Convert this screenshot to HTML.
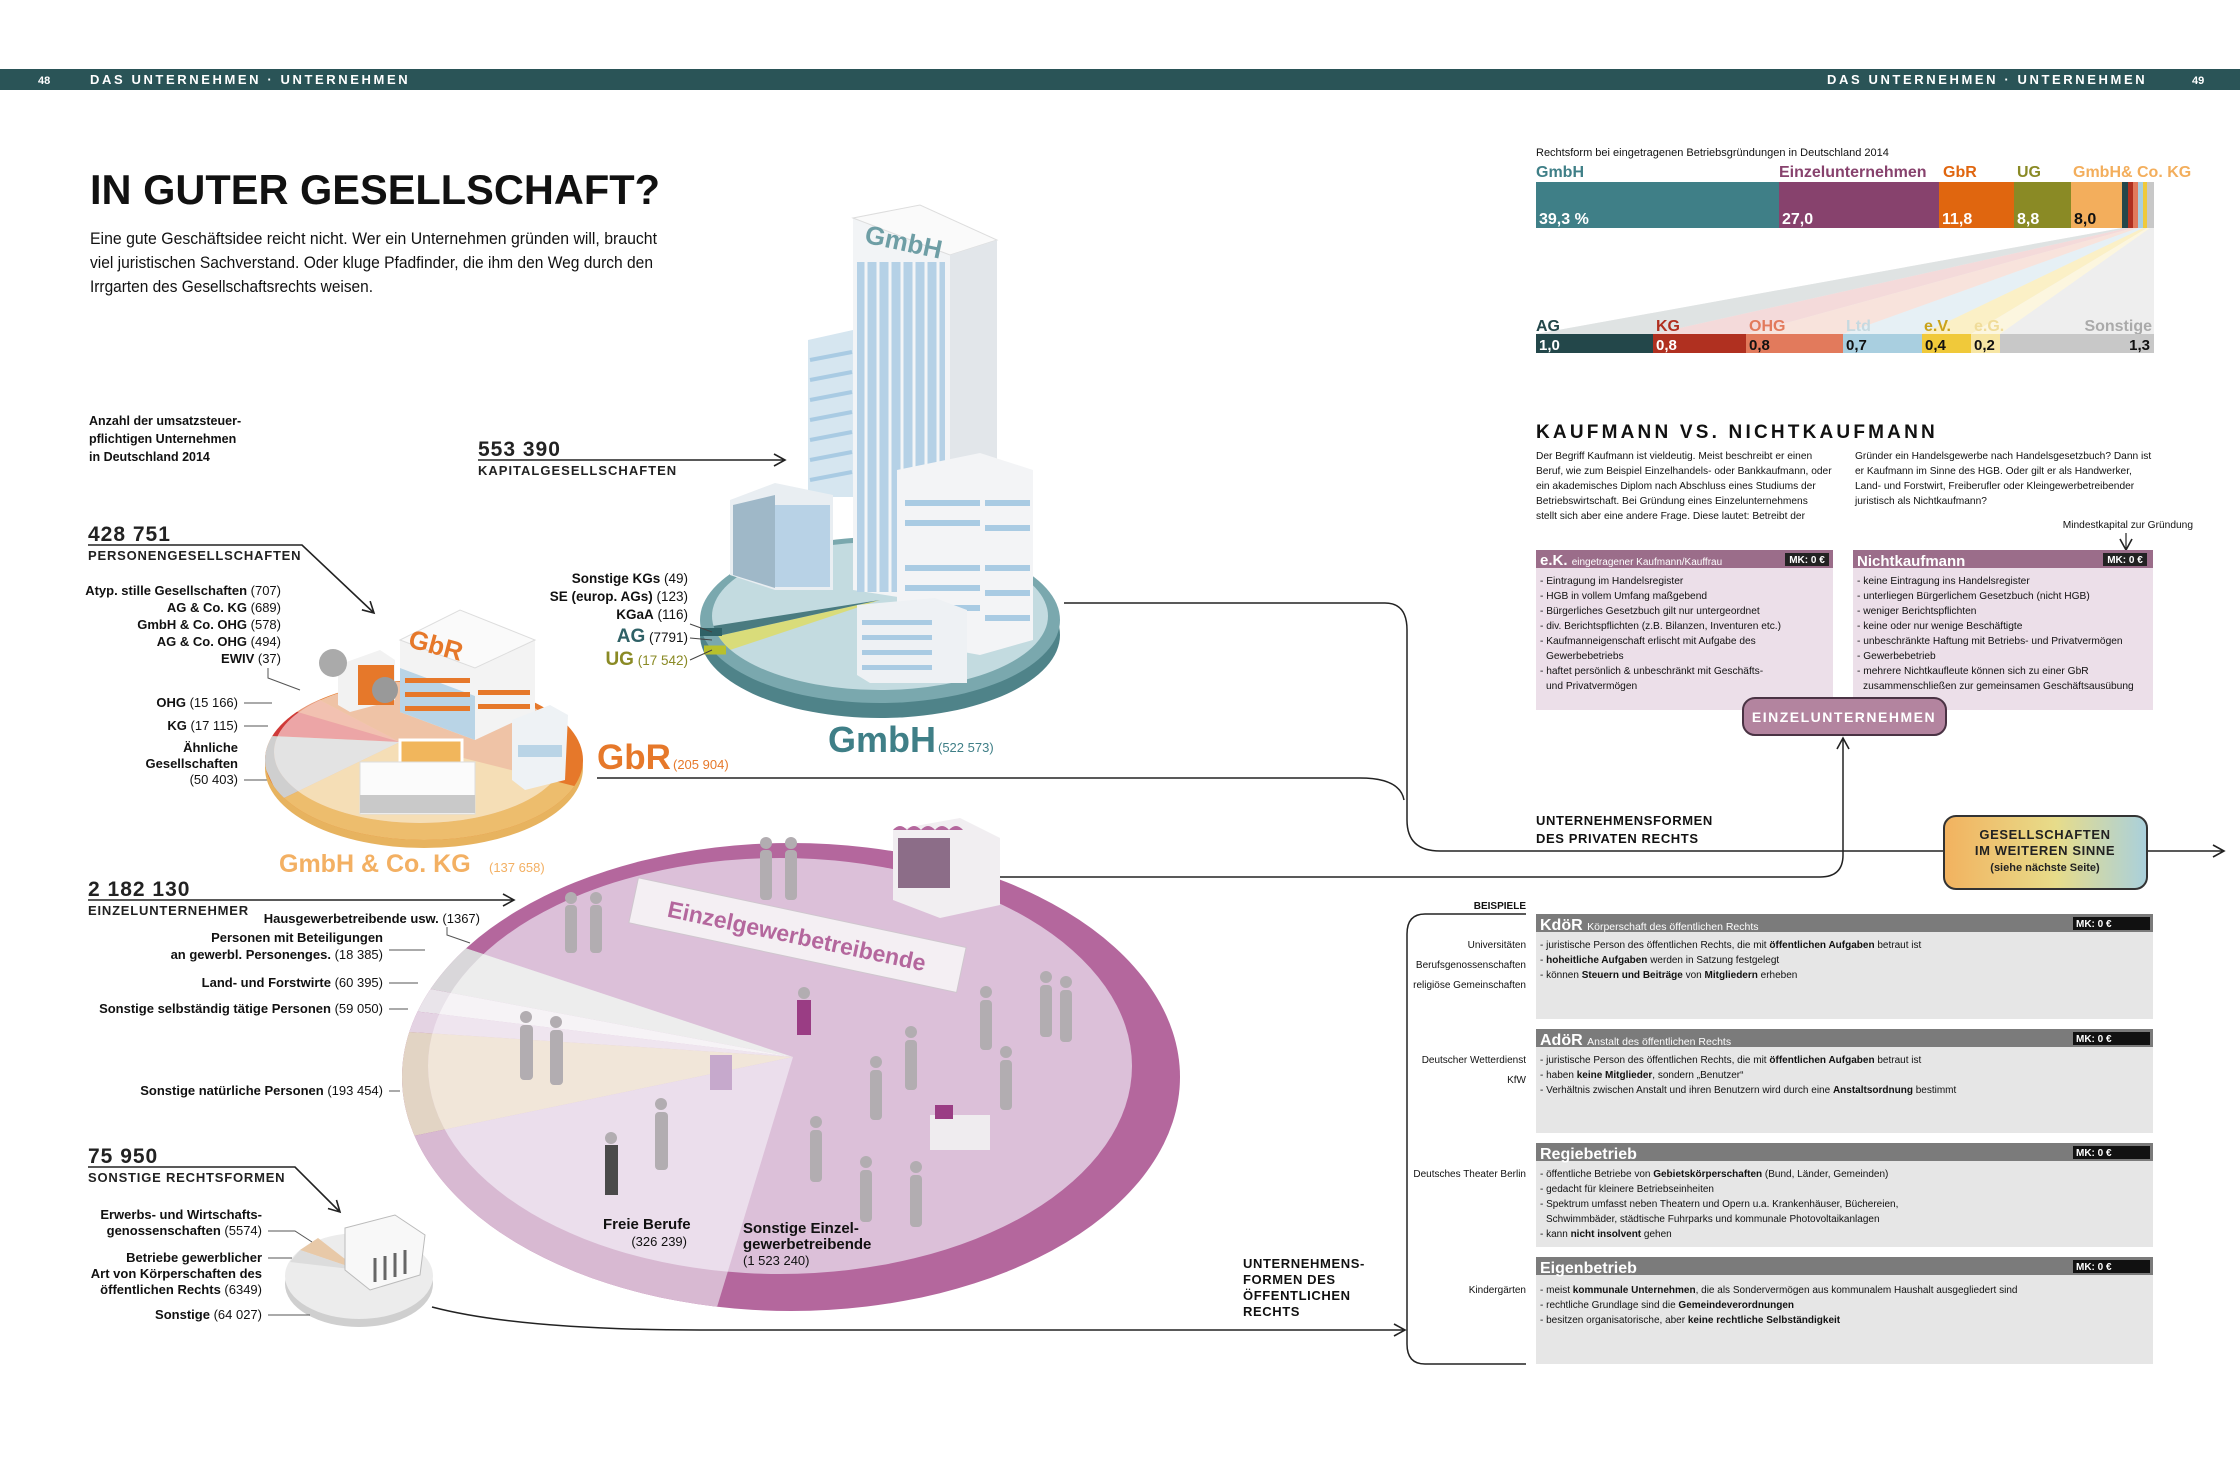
<!DOCTYPE html>
<html><head><meta charset="utf-8"><style>
html,body{margin:0;padding:0;background:#fff}
svg{display:block}
text{font-family:"Liberation Sans",sans-serif}
</style></head><body>
<svg width="2240" height="1479" viewBox="0 0 2240 1479" xmlns="http://www.w3.org/2000/svg">
<defs>
<clipPath id="eOut"><ellipse cx="791" cy="1077" rx="389" ry="234"/></clipPath>
<clipPath id="eIn"><ellipse cx="780" cy="1066" rx="352" ry="208"/></clipPath>
<clipPath id="gOut"><ellipse cx="424" cy="760" rx="159" ry="80"/></clipPath>
<clipPath id="gIn"><ellipse cx="420" cy="752" rx="146" ry="71"/></clipPath>
<clipPath id="mIn"><ellipse cx="880" cy="616" rx="168" ry="74"/></clipPath>
<linearGradient id="gw" x1="0" y1="0" x2="1" y2="0"><stop offset="0" stop-color="#f2b25f"/><stop offset="0.55" stop-color="#e7dc8a"/><stop offset="1" stop-color="#a9d0dc"/></linearGradient>
<marker id="ar" markerWidth="14" markerHeight="14" refX="12" refY="7" orient="auto" markerUnits="userSpaceOnUse"><path d="M1,1 L12,7 L1,13" fill="none" stroke="#222" stroke-width="1.6"/></marker>
</defs>

<!-- header bar -->
<rect x="0" y="69" width="2240" height="21" fill="#2a5457"/>
<text x="38" y="84" fill="#fff" font-size="11" font-weight="bold">48</text>
<text x="90" y="84" fill="#fff" font-size="13" font-weight="bold" letter-spacing="2.6">DAS UNTERNEHMEN · UNTERNEHMEN</text>
<text x="1827" y="84" fill="#fff" font-size="13" font-weight="bold" letter-spacing="2.6">DAS UNTERNEHMEN · UNTERNEHMEN</text>
<text x="2192" y="84" fill="#fff" font-size="11" font-weight="bold">49</text>

<!-- title -->
<text x="90" y="204" font-size="42" font-weight="bold" fill="#111" textLength="570" lengthAdjust="spacingAndGlyphs">IN GUTER GESELLSCHAFT?</text>
<g font-size="17" fill="#111">
<text x="90" y="244" textLength="567" lengthAdjust="spacingAndGlyphs">Eine gute Geschäftsidee reicht nicht. Wer ein Unternehmen gründen will, braucht</text>
<text x="90" y="268" textLength="563" lengthAdjust="spacingAndGlyphs">viel juristischen Sachverstand. Oder kluge Pfadfinder, die ihm den Weg durch den</text>
<text x="90" y="292" textLength="283" lengthAdjust="spacingAndGlyphs">Irrgarten des Gesellschaftsrechts weisen.</text>
</g>

<text font-size="12.5" font-weight="bold" fill="#111"><tspan x="89" y="425">Anzahl der umsatzsteuer-</tspan><tspan x="89" y="443">pflichtigen Unternehmen</tspan><tspan x="89" y="461">in Deutschland 2014</tspan></text>

<!-- 553390 -->
<text x="478" y="456" font-size="21" font-weight="bold" fill="#222" letter-spacing="1">553 390</text>
<line x1="478" y1="460" x2="785" y2="460" stroke="#222" stroke-width="1.6" marker-end="url(#ar)"/>
<text x="478" y="475" font-size="13" font-weight="bold" fill="#222" letter-spacing="1">KAPITALGESELLSCHAFTEN</text>

<!-- GmbH disc -->
<ellipse cx="880" cy="635" rx="180" ry="83" fill="#4f8389"/>
<ellipse cx="880" cy="620" rx="180" ry="83" fill="#7aa8ae"/>
<ellipse cx="880" cy="616" rx="168" ry="74" fill="#c3dbe0"/>
<g clip-path="url(#mIn)"><polygon points="880,600 700,640 700,660" fill="#d9dc7a"/><polygon points="880,600 700,628 700,640" fill="#4a7b80"/></g>
<path d="M700,632 L722,632" stroke="#2f6166" stroke-width="8"/>
<path d="M704,650 L726,650" stroke="#b8c02d" stroke-width="9"/>
<!-- buildings GmbH -->
<polygon points="808,340 853,330 853,497 808,497" fill="#d6e6f0"/>
<g stroke="#a9cbe3" stroke-width="4"><line x1="810" y1="360" x2="852" y2="352"/><line x1="810" y1="380" x2="852" y2="372"/><line x1="810" y1="400" x2="852" y2="392"/><line x1="810" y1="420" x2="852" y2="412"/><line x1="810" y1="440" x2="852" y2="432"/><line x1="810" y1="460" x2="852" y2="452"/><line x1="810" y1="480" x2="852" y2="472"/></g>
<polygon points="853,218 920,205 997,240 997,590 950,605 853,590" fill="#f2f4f6"/>
<polygon points="853,218 920,205 997,240 950,255" fill="#fafafa" stroke="#ddd"/>
<polygon points="950,255 997,240 997,590 950,605" fill="#e2e6ea"/>
<rect x="857" y="262" width="88" height="330" fill="#b5d1e6"/>
<g stroke="#f3f5f7" stroke-width="3"><line x1="866" y1="262" x2="866" y2="592"/><line x1="878" y1="262" x2="878" y2="592"/><line x1="890" y1="262" x2="890" y2="592"/><line x1="902" y1="262" x2="902" y2="592"/><line x1="914" y1="262" x2="914" y2="592"/><line x1="926" y1="262" x2="926" y2="592"/><line x1="938" y1="262" x2="938" y2="592"/></g>
<text x="865" y="250" font-size="26" font-weight="bold" fill="#6e9ea5" transform="rotate(12 900 240)">GmbH</text>
<polygon points="730,500 775,483 833,495 833,590 775,590 730,575" fill="#e9eef2"/>
<rect x="775" y="505" width="55" height="82" fill="#b8d2e6"/>
<polygon points="733,505 775,495 775,588 733,575" fill="#9fb8c8"/>
<polygon points="897,470 980,453 1033,470 1033,640 980,655 897,640" fill="#f3f4f6"/>
<g fill="#a9cbe3"><rect x="905" y="500" width="75" height="6"/><rect x="905" y="520" width="75" height="6"/><rect x="905" y="565" width="75" height="6"/><rect x="905" y="585" width="75" height="6"/><rect x="905" y="605" width="75" height="6"/><rect x="985" y="500" width="45" height="6"/><rect x="985" y="525" width="45" height="6"/><rect x="985" y="565" width="45" height="6"/><rect x="985" y="590" width="45" height="6"/><rect x="985" y="615" width="45" height="6"/></g>
<polygon points="857,605 935,598 967,610 967,683 870,683 857,675" fill="#eef1f4"/>
<g fill="#a9cbe3"><rect x="862" y="620" width="70" height="5"/><rect x="862" y="635" width="70" height="5"/><rect x="862" y="650" width="70" height="5"/><rect x="862" y="665" width="70" height="5"/></g>
<text x="828" y="752" font-size="36" font-weight="bold" fill="#3f7f87">GmbH</text>
<text x="938" y="752" font-size="13" fill="#3f7f87">(522 573)</text>

<!-- GmbH left labels -->
<g font-size="13.5" fill="#111" text-anchor="end">
<text x="688" y="583"><tspan font-weight="bold">Sonstige KGs</tspan> (49)</text>
<text x="688" y="601"><tspan font-weight="bold">SE (europ. AGs)</tspan> (123)</text>
<text x="688" y="619"><tspan font-weight="bold">KGaA</tspan> (116)</text>
<text x="688" y="642"><tspan font-weight="bold" font-size="19" fill="#2f6166">AG</tspan> (7791)</text>
<text x="688" y="665" fill="#8a8a25"><tspan font-weight="bold" font-size="19">UG</tspan> (17 542)</text>
</g>
<g stroke="#444" stroke-width="1" fill="none"><path d="M690,624 L712,632"/><path d="M690,638 L712,640"/><path d="M690,660 L712,650"/></g>

<!-- 428751 -->
<text x="88" y="541" font-size="21" font-weight="bold" fill="#222" letter-spacing="1">428 751</text>
<polyline points="88,545 302,545 374,613" fill="none" stroke="#222" stroke-width="1.6" marker-end="url(#ar)"/>
<text x="88" y="560" font-size="13" font-weight="bold" fill="#222" letter-spacing="0.8">PERSONENGESELLSCHAFTEN</text>
<g font-size="13" fill="#111" text-anchor="end">
<text x="281" y="595"><tspan font-weight="bold">Atyp. stille Gesellschaften</tspan> (707)</text>
<text x="281" y="612"><tspan font-weight="bold">AG &amp; Co. KG</tspan> (689)</text>
<text x="281" y="629"><tspan font-weight="bold">GmbH &amp; Co. OHG</tspan> (578)</text>
<text x="281" y="646"><tspan font-weight="bold">AG &amp; Co. OHG</tspan> (494)</text>
<text x="281" y="663"><tspan font-weight="bold">EWIV</tspan> (37)</text>
<text x="238" y="707"><tspan font-weight="bold">OHG</tspan> (15 166)</text>
<text x="238" y="730"><tspan font-weight="bold">KG</tspan> (17 115)</text>
<text x="238" y="752" font-weight="bold">Ähnliche</text>
<text x="238" y="768" font-weight="bold">Gesellschaften</text>
<text x="238" y="784">(50 403)</text>
</g>
<g stroke="#555" stroke-width="1"><path d="M268,668 L268,678 L300,690" fill="none"/><line x1="244" y1="703" x2="272" y2="703"/><line x1="244" y1="726" x2="268" y2="726"/><line x1="244" y1="780" x2="268" y2="780"/></g>

<!-- GbR disc -->
<ellipse cx="424" cy="768" rx="159" ry="80" fill="#e7b35f"/>
<ellipse cx="424" cy="760" rx="159" ry="80" fill="#e6782a"/>
<g clip-path="url(#gOut)">
<polygon points="400,742 120,600 297,688" fill="#f6d08a"/>
<polygon points="400,742 297,688 270,704" fill="#e79a7d"/>
<polygon points="400,742 270,704 250,735" fill="#cf3a3a"/>
<polygon points="400,742 250,735 280,800" fill="#cfcfcf"/>
<polygon points="400,742 280,800 300,900 600,900 590,790" fill="#edbd6d"/>
</g>
<g clip-path="url(#gIn)">
<rect x="260" y="670" width="330" height="170" fill="#efc3a6"/>
<polygon points="400,742 120,600 297,688" fill="#f3d9a6"/>
<polygon points="400,742 297,688 270,704" fill="#f2c1b1"/>
<polygon points="400,742 270,704 250,735" fill="#eca5a6"/>
<polygon points="400,742 250,735 280,800" fill="#e3e3e3"/>
<polygon points="400,742 280,800 300,900 600,900 590,790" fill="#f5deb6"/>
</g>
<!-- GbR buildings -->
<polygon points="400,640 460,610 535,640 535,712 475,740 400,712" fill="#f3f3f3"/>
<polygon points="400,640 460,610 535,640 475,668" fill="#fafafa" stroke="#ddd"/>
<polygon points="400,668 475,696 475,740 400,712" fill="#b9d4e6"/>
<g fill="#e6782a"><rect x="405" y="678" width="65" height="5"/><rect x="405" y="692" width="65" height="5"/><rect x="405" y="706" width="65" height="5"/><rect x="478" y="690" width="52" height="5"/><rect x="478" y="704" width="52" height="5"/></g>
<text x="410" y="655" font-size="26" font-weight="bold" fill="#e6782a" transform="rotate(15 440 640)">GbR</text>
<polygon points="338,665 380,650 395,660 395,700 350,712 338,705" fill="#f2f2f2"/>
<rect x="358" y="665" width="36" height="40" fill="#e6782a"/>
<circle cx="333" cy="663" r="14" fill="#aaa"/><circle cx="385" cy="690" r="13" fill="#999"/>
<polygon points="512,720 550,705 568,715 565,780 525,790 512,780" fill="#eef2f5"/>
<rect x="518" y="745" width="44" height="12" fill="#b9d4e6"/>
<rect x="400" y="740" width="62" height="24" fill="#f1b65c" stroke="#fff" stroke-width="3"/>
<rect x="360" y="762" width="115" height="52" fill="#fbfbfb" stroke="#ddd"/>
<rect x="360" y="795" width="115" height="18" fill="#c9c9c9"/>
<text x="597" y="769" font-size="35" font-weight="bold" fill="#e6782a">GbR</text>
<text x="673" y="769" font-size="13" fill="#e6782a">(205 904)</text>
<line x1="597" y1="778" x2="1360" y2="778" stroke="#222" stroke-width="1.5"/>
<text x="279" y="872" font-size="25" font-weight="bold" fill="#f3b063">GmbH &amp; Co. KG</text>
<text x="489" y="872" font-size="13" fill="#f3b063">(137 658)</text>

<!-- Einzel disc -->
<ellipse cx="791" cy="1077" rx="389" ry="234" fill="#b4679d"/>
<g clip-path="url(#eOut)">
<polygon points="793,1057 300,900 429,936" fill="#cfcbcf"/>
<polygon points="793,1057 429,936 414,986" fill="#d9d7da"/>
<polygon points="793,1057 414,986 405,1010" fill="#e9e4ea"/>
<polygon points="793,1057 405,1010 380,1030" fill="#e4d3e3"/>
<polygon points="793,1057 380,1030 380,1143" fill="#e2d4c4"/>
<polygon points="793,1057 380,1143 380,1400 707,1340" fill="#d8b9d2"/>
</g>
<g clip-path="url(#eIn)">
<rect x="400" y="840" width="780" height="440" fill="#dcc0d9"/>
<polygon points="793,1057 300,900 429,936" fill="#e3e1e3"/>
<polygon points="793,1057 429,936 414,986" fill="#ededed"/>
<polygon points="793,1057 414,986 405,1010" fill="#f6f3f6"/>
<polygon points="793,1057 405,1010 380,1030" fill="#efe5ef"/>
<polygon points="793,1057 380,1030 380,1143" fill="#f1e6d9"/>
<polygon points="793,1057 380,1143 380,1400 707,1340" fill="#ebdeec"/>
</g>
<!-- kiosk -->
<polygon points="893,830 960,818 1000,838 1000,905 940,918 893,900" fill="#f1eef1"/>
<rect x="898" y="838" width="52" height="50" fill="#8c6d88"/>
<path d="M893,830 q7,-8 14,0 q7,-8 14,0 q7,-8 14,0 q7,-8 14,0 q7,-8 14,0" fill="#b4679d"/>
<!-- banner -->
<g transform="rotate(12 797 935)">
<rect x="630" y="912" width="335" height="46" fill="#f4eff3" stroke="#cfc6ce"/>
<text x="797" y="944" font-size="23" font-weight="bold" fill="#b4679d" text-anchor="middle">Einzelgewerbetreibende</text>
</g>
<!-- people -->
<g fill="#b2adb1">
<rect x="565" y="905" width="12" height="48" rx="4"/><circle cx="571" cy="898" r="6"/>
<rect x="590" y="905" width="12" height="48" rx="4"/><circle cx="596" cy="898" r="6"/>
<rect x="760" y="850" width="12" height="50" rx="4"/><circle cx="766" cy="843" r="6"/>
<rect x="785" y="850" width="12" height="50" rx="4"/><circle cx="791" cy="843" r="6"/>
<rect x="520" y="1025" width="13" height="55" rx="4"/><circle cx="526" cy="1017" r="6"/>
<rect x="550" y="1030" width="13" height="55" rx="4"/><circle cx="556" cy="1022" r="6"/>
<rect x="655" y="1112" width="13" height="58" rx="4"/><circle cx="661" cy="1104" r="6"/>
<rect x="905" y="1040" width="12" height="50" rx="4"/><circle cx="911" cy="1032" r="6"/>
<rect x="980" y="1000" width="12" height="50" rx="4"/><circle cx="986" cy="992" r="6"/>
<rect x="1040" y="985" width="12" height="52" rx="4"/><circle cx="1046" cy="977" r="6"/>
<rect x="1060" y="990" width="12" height="52" rx="4"/><circle cx="1066" cy="982" r="6"/>
<rect x="870" y="1070" width="12" height="50" rx="4"/><circle cx="876" cy="1062" r="6"/>
<rect x="1000" y="1060" width="12" height="50" rx="4"/><circle cx="1006" cy="1052" r="6"/>
<rect x="810" y="1130" width="12" height="52" rx="4"/><circle cx="816" cy="1122" r="6"/>
<rect x="860" y="1170" width="12" height="52" rx="4"/><circle cx="866" cy="1162" r="6"/>
<rect x="910" y="1175" width="12" height="52" rx="4"/><circle cx="916" cy="1167" r="6"/>
</g>
<rect x="797" y="1000" width="14" height="35" fill="#9a3d84"/><circle cx="804" cy="993" r="6" fill="#b2adb1"/>
<rect x="605" y="1145" width="13" height="50" fill="#4a4a4a"/><circle cx="611" cy="1138" r="6" fill="#b2adb1"/>
<rect x="930" y="1115" width="60" height="35" fill="#efecef"/><rect x="935" y="1105" width="18" height="14" fill="#9a3d84"/>
<rect x="710" y="1055" width="22" height="35" fill="#c6a9cc"/>

<text x="603" y="1229" font-size="15" font-weight="bold" fill="#111">Freie Berufe</text>
<text x="687" y="1246" font-size="13" fill="#111" text-anchor="end">(326 239)</text>
<text font-size="15" font-weight="bold" fill="#111"><tspan x="743" y="1233">Sonstige Einzel-</tspan><tspan x="743" y="1249">gewerbetreibende</tspan></text>
<text x="743" y="1265" font-size="13" fill="#111">(1 523 240)</text>

<!-- 2182130 -->
<text x="88" y="896" font-size="21" font-weight="bold" fill="#222" letter-spacing="1">2 182 130</text>
<line x1="88" y1="900" x2="514" y2="900" stroke="#222" stroke-width="1.6" marker-end="url(#ar)"/>
<text x="88" y="915" font-size="13" font-weight="bold" fill="#222" letter-spacing="0.8">EINZELUNTERNEHMER</text>
<g font-size="13" fill="#111" text-anchor="end">
<text x="480" y="923"><tspan font-weight="bold">Hausgewerbetreibende usw.</tspan> (1367)</text>
<text x="383" y="942" font-weight="bold">Personen mit Beteiligungen</text>
<text x="383" y="959"><tspan font-weight="bold">an gewerbl. Personenges.</tspan> (18 385)</text>
<text x="383" y="987"><tspan font-weight="bold">Land- und Forstwirte</tspan> (60 395)</text>
<text x="383" y="1013"><tspan font-weight="bold">Sonstige selbständig tätige Personen</tspan> (59 050)</text>
<text x="383" y="1095"><tspan font-weight="bold">Sonstige natürliche Personen</tspan> (193 454)</text>
</g>
<g stroke="#555" stroke-width="1" fill="none"><path d="M447,927 L447,935 L470,943"/><line x1="389" y1="950" x2="425" y2="950"/><line x1="389" y1="983" x2="418" y2="983"/><line x1="389" y1="1009" x2="408" y2="1009"/><line x1="389" y1="1091" x2="400" y2="1091"/></g>

<!-- 75950 -->
<text x="88" y="1163" font-size="21" font-weight="bold" fill="#222" letter-spacing="1">75 950</text>
<polyline points="88,1167 295,1167 340,1212" fill="none" stroke="#222" stroke-width="1.6" marker-end="url(#ar)"/>
<text x="88" y="1182" font-size="13" font-weight="bold" fill="#222" letter-spacing="0.8">SONSTIGE RECHTSFORMEN</text>
<ellipse cx="359" cy="1284" rx="74" ry="43" fill="#cfcfcf"/>
<ellipse cx="359" cy="1276" rx="74" ry="43" fill="#ececec"/>
<polygon points="359,1270 300,1250 318,1238" fill="#e8c9a8"/>
<polygon points="359,1270 290,1262 300,1250" fill="#dcdcdc"/>
<polygon points="345,1228 395,1215 425,1235 420,1275 370,1290 345,1270" fill="#f8f8f8" stroke="#bbb"/>
<g stroke="#666" stroke-width="3"><line x1="375" y1="1258" x2="375" y2="1282"/><line x1="385" y1="1256" x2="385" y2="1280"/><line x1="395" y1="1253" x2="395" y2="1277"/><line x1="405" y1="1250" x2="405" y2="1274"/></g>
<g font-size="13" fill="#111" text-anchor="end">
<text x="262" y="1219" font-weight="bold">Erwerbs- und Wirtschafts-</text>
<text x="262" y="1235"><tspan font-weight="bold">genossenschaften</tspan> (5574)</text>
<text x="262" y="1262" font-weight="bold">Betriebe gewerblicher</text>
<text x="262" y="1278" font-weight="bold">Art von Körperschaften des</text>
<text x="262" y="1294"><tspan font-weight="bold">öffentlichen Rechts</tspan> (6349)</text>
<text x="262" y="1319"><tspan font-weight="bold">Sonstige</tspan> (64 027)</text>
</g>
<g stroke="#555" stroke-width="1" fill="none"><path d="M268,1231 L295,1231 L312,1242"/><line x1="268" y1="1258" x2="292" y2="1258"/><line x1="268" y1="1315" x2="310" y2="1315"/></g>

<!-- connectors -->
<g fill="none" stroke="#222" stroke-width="1.5">
<path d="M1064,603 L1385,603 Q1407,603 1407,630 L1407,820 Q1407,851 1440,851 L1943,851"/>
<path d="M1360,778 Q1400,778 1404,800"/>
<path d="M1000,877 L1820,877 Q1843,877 1843,855 L1843,738" marker-end="url(#ar)"/>
<line x1="2147" y1="851" x2="2224" y2="851" marker-end="url(#ar)"/>
<path d="M432,1307 Q520,1330 700,1330 L1405,1330" marker-end="url(#ar)"/>
<path d="M1526,914 L1425,914 Q1407,914 1407,934 L1407,1344 Q1407,1364 1425,1364 L1526,1364"/>
</g>
<text font-size="13" font-weight="bold" fill="#111" letter-spacing="0.6"><tspan x="1536" y="825">UNTERNEHMENSFORMEN</tspan><tspan x="1536" y="843">DES PRIVATEN RECHTS</tspan></text>
<rect x="1944" y="816" width="203" height="73" rx="12" fill="url(#gw)" stroke="#333" stroke-width="2"/>
<text font-size="13" font-weight="bold" fill="#222" text-anchor="middle" letter-spacing="0.6"><tspan x="2045" y="839">GESELLSCHAFTEN</tspan><tspan x="2045" y="855">IM WEITEREN SINNE</tspan></text>
<text x="2045" y="871" font-size="11" font-weight="bold" fill="#222" text-anchor="middle">(siehe nächste Seite)</text>
<text font-size="13" font-weight="bold" fill="#111" letter-spacing="0.6"><tspan x="1243" y="1268">UNTERNEHMENS-</tspan><tspan x="1243" y="1284">FORMEN DES</tspan><tspan x="1243" y="1300">ÖFFENTLICHEN</tspan><tspan x="1243" y="1316">RECHTS</tspan></text>

<!-- stacked bar chart -->
<text x="1536" y="156" font-size="11" fill="#111">Rechtsform bei eingetragenen Betriebsgründungen in Deutschland 2014</text>
<polygon points="2122,228 2154,228 2154,334 1536,334" fill="#eeeeee"/>
<polygon points="2122,228 2128,228 1653,334 1536,334" fill="#dfe3e3"/>
<polygon points="2128,228 2133,228 1746,334 1653,334" fill="#f4dada"/>
<polygon points="2133,228 2138,228 1843,334 1746,334" fill="#f8e3dc"/>
<polygon points="2138,228 2143,228 1922,334 1843,334" fill="#e6f0f5"/>
<polygon points="2143,228 2147,228 1971,334 1922,334" fill="#fbf0c6"/>
<polygon points="2147,228 2150,228 2000,334 1971,334" fill="#fcf6df"/>
<rect x="1536" y="182" width="243" height="46" fill="#3f7f87"/>
<rect x="1779" y="182" width="160" height="46" fill="#87426d"/>
<rect x="1939" y="182" width="75" height="46" fill="#e0660f"/>
<rect x="2014" y="182" width="57" height="46" fill="#8a8a25"/>
<rect x="2071" y="182" width="51" height="46" fill="#f3ae5c"/>
<rect x="2122" y="182" width="6" height="46" fill="#23474a"/>
<rect x="2128" y="182" width="5" height="46" fill="#b03020"/>
<rect x="2133" y="182" width="5" height="46" fill="#e27a5c"/>
<rect x="2138" y="182" width="5" height="46" fill="#a9cfe0"/>
<rect x="2143" y="182" width="4" height="46" fill="#f0c93a"/>
<rect x="2147" y="182" width="7" height="46" fill="#c8c8c8"/>
<g font-size="16" font-weight="bold">
<text x="1536" y="177" fill="#3f7f87">GmbH</text>
<text x="1779" y="177" fill="#87426d">Einzelunternehmen</text>
<text x="1943" y="177" fill="#e0660f">GbR</text>
<text x="2017" y="177" fill="#8a8a25">UG</text>
<text x="2073" y="177" fill="#f3ae5c">GmbH&amp; Co. KG</text>
<text x="1539" y="224" fill="#fff">39,3 %</text>
<text x="1782" y="224" fill="#fff">27,0</text>
<text x="1942" y="224" fill="#fff">11,8</text>
<text x="2017" y="224" fill="#fff">8,8</text>
<text x="2074" y="224" fill="#111">8,0</text>
<text x="1536" y="331" fill="#23474a">AG</text>
<text x="1656" y="331" fill="#b03020">KG</text>
<text x="1749" y="331" fill="#e27a5c">OHG</text>
<text x="1846" y="331" fill="#c6d9e0">Ltd</text>
<text x="1924" y="331" fill="#c9a31a">e.V.</text>
<text x="1974" y="331" fill="#f0dc9a">e.G.</text>
<text x="2152" y="331" fill="#aaa" text-anchor="end">Sonstige</text>
</g>
<rect x="1536" y="334" width="117" height="19" fill="#23474a"/>
<rect x="1653" y="334" width="93" height="19" fill="#b03020"/>
<rect x="1746" y="334" width="97" height="19" fill="#e27a5c"/>
<rect x="1843" y="334" width="79" height="19" fill="#a9cfe0"/>
<rect x="1922" y="334" width="49" height="19" fill="#f0c93a"/>
<rect x="1971" y="334" width="29" height="19" fill="#f7e6a5"/>
<rect x="2000" y="334" width="154" height="19" fill="#c8c8c8"/>
<g font-size="15" font-weight="bold">
<text x="1539" y="350" fill="#fff">1,0</text><text x="1656" y="350" fill="#fff">0,8</text><text x="1749" y="350" fill="#111">0,8</text><text x="1846" y="350" fill="#111">0,7</text><text x="1925" y="350" fill="#111">0,4</text><text x="1974" y="350" fill="#111">0,2</text><text x="2150" y="350" fill="#111" text-anchor="end">1,3</text>
</g>

<!-- Kaufmann -->
<text x="1536" y="438" font-size="19" font-weight="bold" letter-spacing="3.2" fill="#111">KAUFMANN VS. NICHTKAUFMANN</text>
<g font-size="10.2" fill="#111">
<text x="1536" y="459">Der Begriff Kaufmann ist vieldeutig. Meist beschreibt er einen</text>
<text x="1536" y="474">Beruf, wie zum Beispiel Einzelhandels- oder Bankkaufmann, oder</text>
<text x="1536" y="489">ein akademisches Diplom nach Abschluss eines Studiums der</text>
<text x="1536" y="504">Betriebswirtschaft. Bei Gründung eines Einzelunternehmens</text>
<text x="1536" y="519">stellt sich aber eine andere Frage. Diese lautet: Betreibt der</text>
<text x="1855" y="459">Gründer ein Handelsgewerbe nach Handelsgesetzbuch? Dann ist</text>
<text x="1855" y="474">er Kaufmann im Sinne des HGB. Oder gilt er als Handwerker,</text>
<text x="1855" y="489">Land- und Forstwirt, Freiberufler oder Kleingewerbetreibender</text>
<text x="1855" y="504">juristisch als Nichtkaufmann?</text>
<text x="2193" y="528" text-anchor="end">Mindestkapital zur Gründung</text>
</g>
<line x1="2126" y1="533" x2="2126" y2="550" stroke="#222" stroke-width="1.2" marker-end="url(#ar)"/>
<rect x="1536" y="550" width="297" height="160" fill="#ecdfe9"/>
<rect x="1536" y="550" width="297" height="18" fill="#9b6d8a"/>
<text x="1540" y="565" fill="#fff" font-size="15" font-weight="bold">e.K. <tspan font-size="10" font-weight="normal">eingetragener Kaufmann/Kauffrau</tspan></text>
<rect x="1785" y="553" width="44" height="13" fill="#222"/><text x="1807" y="563" font-size="10" font-weight="bold" fill="#fff" text-anchor="middle">MK: 0 €</text>
<rect x="1853" y="550" width="300" height="160" fill="#ecdfe9"/>
<rect x="1853" y="550" width="300" height="18" fill="#9b6d8a"/>
<text x="1857" y="566" fill="#fff" font-size="15" font-weight="bold">Nichtkaufmann</text>
<rect x="2103" y="553" width="44" height="13" fill="#222"/><text x="2125" y="563" font-size="10" font-weight="bold" fill="#fff" text-anchor="middle">MK: 0 €</text>
<g font-size="10.2" fill="#111">
<text x="1540" y="584">- Eintragung im Handelsregister</text>
<text x="1540" y="599">- HGB in vollem Umfang maßgebend</text>
<text x="1540" y="614">- Bürgerliches Gesetzbuch gilt nur untergeordnet</text>
<text x="1540" y="629">- div. Berichtspflichten (z.B. Bilanzen, Inventuren etc.)</text>
<text x="1540" y="644">- Kaufmanneigenschaft erlischt mit Aufgabe des</text>
<text x="1546" y="659">Gewerbebetriebs</text>
<text x="1540" y="674">- haftet persönlich &amp; unbeschränkt mit Geschäfts-</text>
<text x="1546" y="689">und Privatvermögen</text>
<text x="1857" y="584">- keine Eintragung ins Handelsregister</text>
<text x="1857" y="599">- unterliegen Bürgerlichem Gesetzbuch (nicht HGB)</text>
<text x="1857" y="614">- weniger Berichtspflichten</text>
<text x="1857" y="629">- keine oder nur wenige Beschäftigte</text>
<text x="1857" y="644">- unbeschränkte Haftung mit Betriebs- und Privatvermögen</text>
<text x="1857" y="659">- Gewerbebetrieb</text>
<text x="1857" y="674">- mehrere Nichtkaufleute können sich zu einer GbR</text>
<text x="1863" y="689">zusammenschließen zur gemeinsamen Geschäftsausübung</text>
</g>
<rect x="1743" y="698" width="203" height="37" rx="12" fill="#b3849f" stroke="#4a3344" stroke-width="2"/>
<text x="1844" y="722" font-size="14" font-weight="bold" fill="#fff" text-anchor="middle" letter-spacing="1.5">EINZELUNTERNEHMEN</text>

<!-- public law -->
<text x="1526" y="909" font-size="10" font-weight="bold" fill="#111" text-anchor="end">BEISPIELE</text>
<g font-size="10" fill="#111">
<rect x="1536" y="914" width="617" height="105" fill="#e6e6e6"/><rect x="1536" y="914" width="617" height="18" fill="#7b7b7b"/>
<text x="1540" y="930" fill="#fff" font-size="16" font-weight="bold">KdöR <tspan font-size="10.5" font-weight="normal">Körperschaft des öffentlichen Rechts</tspan></text>
<rect x="2073" y="917" width="77" height="13" fill="#111"/><text x="2076" y="927" fill="#fff" font-weight="bold">MK: 0 €</text>
<text x="1540" y="948">- juristische Person des öffentlichen Rechts, die mit <tspan font-weight="bold">öffentlichen Aufgaben</tspan> betraut ist</text>
<text x="1540" y="963">- <tspan font-weight="bold">hoheitliche Aufgaben</tspan> werden in Satzung festgelegt</text>
<text x="1540" y="978">- können <tspan font-weight="bold">Steuern und Beiträge</tspan> von <tspan font-weight="bold">Mitgliedern</tspan> erheben</text>
<text x="1526" y="948" text-anchor="end">Universitäten</text>
<text x="1526" y="968" text-anchor="end">Berufsgenossenschaften</text>
<text x="1526" y="988" text-anchor="end">religiöse Gemeinschaften</text>

<rect x="1536" y="1029" width="617" height="104" fill="#e6e6e6"/><rect x="1536" y="1029" width="617" height="18" fill="#7b7b7b"/>
<text x="1540" y="1045" fill="#fff" font-size="16" font-weight="bold">AdöR <tspan font-size="10.5" font-weight="normal">Anstalt des öffentlichen Rechts</tspan></text>
<rect x="2073" y="1032" width="77" height="13" fill="#111"/><text x="2076" y="1042" fill="#fff" font-weight="bold">MK: 0 €</text>
<text x="1540" y="1063">- juristische Person des öffentlichen Rechts, die mit <tspan font-weight="bold">öffentlichen Aufgaben</tspan> betraut ist</text>
<text x="1540" y="1078">- haben <tspan font-weight="bold">keine Mitglieder</tspan>, sondern „Benutzer“</text>
<text x="1540" y="1093">- Verhältnis zwischen Anstalt und ihren Benutzern wird durch eine <tspan font-weight="bold">Anstaltsordnung</tspan> bestimmt</text>
<text x="1526" y="1063" text-anchor="end">Deutscher Wetterdienst</text>
<text x="1526" y="1083" text-anchor="end">KfW</text>

<rect x="1536" y="1143" width="617" height="104" fill="#e6e6e6"/><rect x="1536" y="1143" width="617" height="18" fill="#7b7b7b"/>
<text x="1540" y="1159" fill="#fff" font-size="16" font-weight="bold">Regiebetrieb</text>
<rect x="2073" y="1146" width="77" height="13" fill="#111"/><text x="2076" y="1156" fill="#fff" font-weight="bold">MK: 0 €</text>
<text x="1540" y="1177">- öffentliche Betriebe von <tspan font-weight="bold">Gebietskörperschaften</tspan> (Bund, Länder, Gemeinden)</text>
<text x="1540" y="1192">- gedacht für kleinere Betriebseinheiten</text>
<text x="1540" y="1207">- Spektrum umfasst neben Theatern und Opern u.a. Krankenhäuser, Büchereien,</text>
<text x="1546" y="1222">Schwimmbäder, städtische Fuhrparks und kommunale Photovoltaikanlagen</text>
<text x="1540" y="1237">- kann <tspan font-weight="bold">nicht insolvent</tspan> gehen</text>
<text x="1526" y="1177" text-anchor="end">Deutsches Theater Berlin</text>

<rect x="1536" y="1257" width="617" height="107" fill="#e6e6e6"/><rect x="1536" y="1257" width="617" height="18" fill="#7b7b7b"/>
<text x="1540" y="1273" fill="#fff" font-size="16" font-weight="bold">Eigenbetrieb</text>
<rect x="2073" y="1260" width="77" height="13" fill="#111"/><text x="2076" y="1270" fill="#fff" font-weight="bold">MK: 0 €</text>
<text x="1540" y="1293">- meist <tspan font-weight="bold">kommunale Unternehmen</tspan>, die als Sondervermögen aus kommunalem Haushalt ausgegliedert sind</text>
<text x="1540" y="1308">- rechtliche Grundlage sind die <tspan font-weight="bold">Gemeindeverordnungen</tspan></text>
<text x="1540" y="1323">- besitzen organisatorische, aber <tspan font-weight="bold">keine rechtliche Selbständigkeit</tspan></text>
<text x="1526" y="1293" text-anchor="end">Kindergärten</text>
</g>
</svg>
</body></html>
